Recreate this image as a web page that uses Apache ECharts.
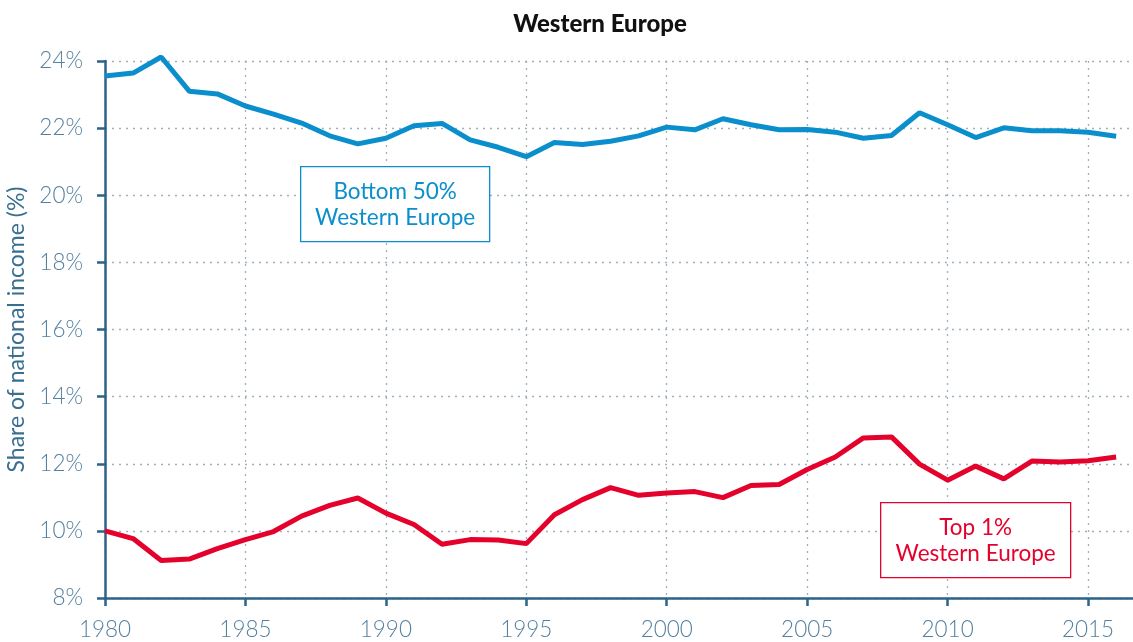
<!DOCTYPE html>
<html>
<head>
<meta charset="utf-8">
<script src="https://cdn.jsdelivr.net/npm/echarts@6/dist/echarts.min.js"></script>
<style>html,body{margin:0;padding:0;background:#fff}#c{width:1133px;height:642px}</style>
</head>
<body>
<div id="c"></div>
<script>
var years = [];
for (var y = 1980; y <= 2016; y++) years.push(y);
var bottom50 = [23.55,23.64,24.12,23.1,23.02,22.66,22.42,22.15,21.77,21.53,21.7,22.07,22.14,21.65,21.43,21.15,21.57,21.51,21.61,21.77,22.03,21.95,22.28,22.1,21.95,21.96,21.88,21.7,21.78,22.46,22.1,21.72,22.01,21.92,21.92,21.88,21.76];
var top1 = [10.0,9.77,9.12,9.16,9.47,9.74,9.98,10.44,10.76,10.98,10.53,10.19,9.6,9.74,9.73,9.62,10.48,10.93,11.29,11.06,11.13,11.17,10.99,11.35,11.38,11.83,12.2,12.77,12.8,11.99,11.51,11.93,11.55,12.08,12.05,12.09,12.2];
var xTicks = [1980,1985,1990,1995,2000,2005,2010,2015];
var blue = '#0a8fcc', red = '#e4022d', axisCol = '#2d6388', labCol = '#55809f';
function pairs(v){ return v.map(function(d,i){ return [years[i], d]; }); }
var chart = echarts.init(document.getElementById('c'));
chart.setOption({
  animation: false,
  textStyle: { fontFamily: 'Lato' },
  title: { text: 'Western Europe', left: 595, top: 7, textAlign: 'center',
    textStyle: { fontFamily: 'Lato', fontWeight: 900, fontSize: 24, color: '#111' } },
  grid: { left: 105, right: 0, top: 61, bottom: 44, containLabel: false, outerBoundsMode: 'none' },
  xAxis: {
    type: 'value', min: 1980, max: 2016.6, interval: 5,
    axisLine: { lineStyle: { color: axisCol, width: 2.5 } },
    axisTick: { show: true, length: 8, lineStyle: { color: axisCol, width: 2.5 }, customValues: xTicks },
    axisLabel: { color: labCol, fontSize: 22.5, fontWeight: 300, margin: 20, fontFamily: 'Lato', customValues: xTicks, formatter: function(v){ return String(v); } },
    splitLine: { show: true, lineStyle: { color: '#9fb0bd', type: [2, 5], width: 1.3 } }
  },
  yAxis: {
    type: 'value', min: 8, max: 24, interval: 2,
    name: 'Share of national income (%)', nameLocation: 'middle', nameGap: 76,
    nameTextStyle: { color: '#3a6f92', fontSize: 23, fontFamily: 'Lato' },
    axisLine: { show: true, lineStyle: { color: axisCol, width: 2.5 } },
    axisTick: { show: true, length: 8, lineStyle: { color: axisCol, width: 2.5 } },
    axisLabel: { color: labCol, fontSize: 22.5, fontWeight: 300, margin: 22, fontFamily: 'Lato', formatter: '{value}%' },
    splitLine: { show: true, lineStyle: { color: '#9fb0bd', type: [2, 5], width: 1.3 } }
  },
  series: [
    { name: 'Bottom 50% Western Europe', type: 'line', data: pairs(bottom50), showSymbol: false, clip: false,
      lineStyle: { color: blue, width: 5 }, itemStyle: { color: blue } },
    { name: 'Top 1% Western Europe', type: 'line', data: pairs(top1), showSymbol: false, clip: false,
      lineStyle: { color: red, width: 5 }, itemStyle: { color: red } }
  ],
  graphic: [
    { type: 'group', left: 300, top: 166, z: 100, children: [
      { type: 'rect', z: 100, shape: { x: 0, y: 0, width: 189, height: 75 }, style: { fill: '#fff', stroke: blue, lineWidth: 1.3 } },
      { type: 'text', z: 101, x: 94.5, y: 38, style: { text: 'Bottom 50%\nWestern Europe', fill: blue, font: '22.5px Lato', align: 'center', verticalAlign: 'middle', lineHeight: 26 } }
    ]},
    { type: 'group', left: 880, top: 502, z: 100, children: [
      { type: 'rect', z: 100, shape: { x: 0, y: 0, width: 190, height: 75 }, style: { fill: '#fff', stroke: red, lineWidth: 1.3 } },
      { type: 'text', z: 101, x: 95, y: 38, style: { text: 'Top 1%\nWestern Europe', fill: red, font: '22.5px Lato', align: 'center', verticalAlign: 'middle', lineHeight: 26 } }
    ]}
  ]
});
</script>
</body>
</html>
